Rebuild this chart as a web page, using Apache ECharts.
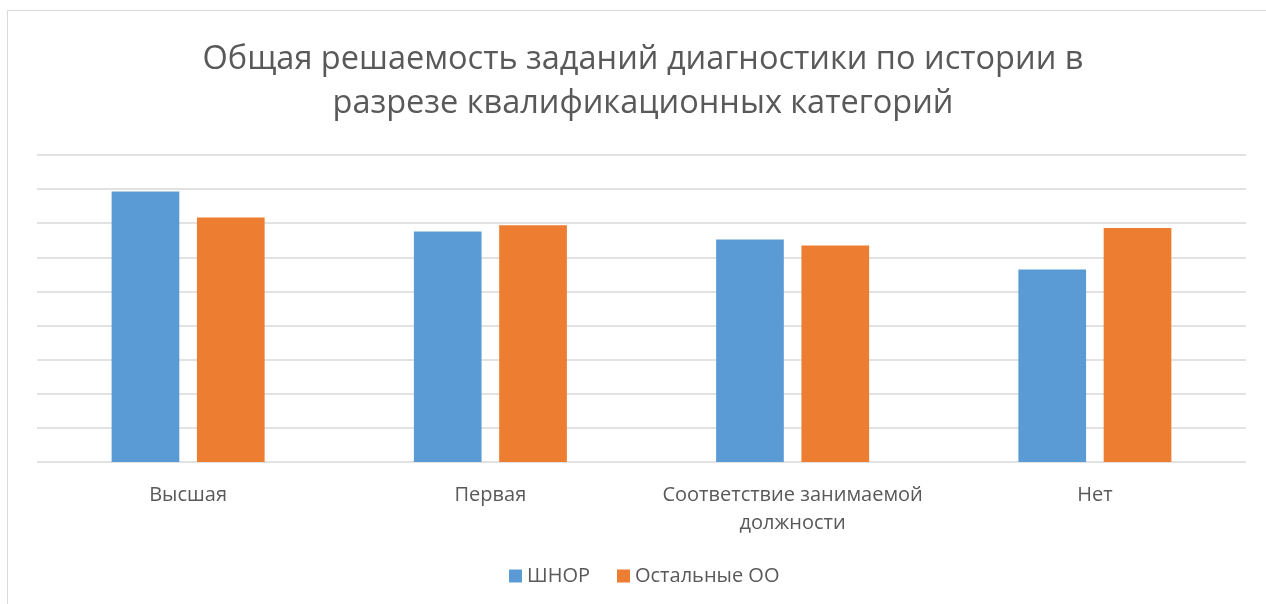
<!DOCTYPE html>
<html>
<head>
<meta charset="utf-8">
<script src="https://cdn.jsdelivr.net/npm/echarts@6/dist/echarts.min.js"></script>
<style>
html,body{margin:0;padding:0;background:#fff;}
#main{width:1266px;height:604px;}
</style>
</head>
<body>
<div id="main"></div>
<script>
const titleText = "Общая решаемость заданий диагностики по истории в\nразрезе квалификационных категорий";
const categories = ["Высшая", "Первая", "Соответствие занимаемой\nдолжности", "Нет"];
const seriesNames = ["ШНОР", "Остальные ОО"];
const shnorValues = [79.3, 67.6, 65.2, 56.4];
const otherValues = [71.7, 69.4, 63.5, 68.6];

const chart = echarts.init(document.getElementById('main'), null, {renderer: 'canvas'});
const font = "'Open Sans', 'Noto Sans', sans-serif";
chart.setOption({
  animation: false,
  backgroundColor: '#fff',
  graphic: [{
    type: 'rect',
    shape: {x: 7.5, y: 10.5, width: 1300, height: 700},
    style: {fill: 'none', stroke: '#d9d9d9', lineWidth: 1}
  }, {
    type: 'text',
    x: 643,
    y: 38,
    style: {
      text: titleText,
      align: 'center',
      verticalAlign: 'top',
      fontFamily: font,
      fontSize: 32.5,
      lineHeight: 44,
      fill: '#595959'
    }
  }],
  legend: {
    data: seriesNames,
    bottom: 13,
    left: 504,
    icon: 'rect',
    itemWidth: 13,
    itemHeight: 13,
    itemGap: 27,
    textStyle: {fontFamily: font, fontSize: 20, color: '#595959'}
  },
  grid: {left: 37, right: 20, top: 155, bottom: 142, containLabel: false},
  xAxis: {
    type: 'category',
    data: categories,
    axisLine: {show: false},
    axisTick: {show: false},
    axisLabel: {fontFamily: font, fontSize: 20, color: '#595959', margin: 19, lineHeight: 28, interval: 0}
  },
  yAxis: {
    type: 'value',
    min: 0,
    max: 90,
    interval: 10,
    axisLabel: {show: false},
    axisLine: {show: false},
    axisTick: {show: false},
    splitLine: {lineStyle: {color: '#d9d9d9', width: 1.5}}
  },
  series: [
    {name: seriesNames[0], type: 'bar', data: shnorValues, barWidth: '22.4%', barGap: '26%', itemStyle: {color: '#5b9bd5'}},
    {name: seriesNames[1], type: 'bar', data: otherValues, barWidth: '22.4%', itemStyle: {color: '#ed7d31'}}
  ]
});
</script>
</body>
</html>
